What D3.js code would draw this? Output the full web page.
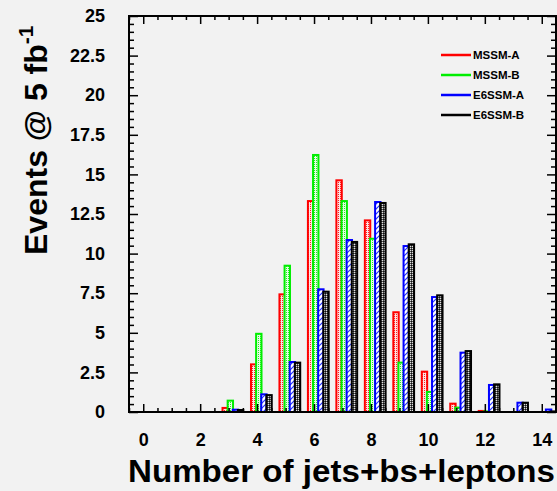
<!DOCTYPE html>
<html>
<head>
<meta charset="utf-8">
<script src="https://cdn.jsdelivr.net/npm/d3@7"></script>
<style>
  html, body { margin: 0; padding: 0; background: #f2f2f2; }
  svg { display: block; }
  text { font-family: "Liberation Sans", Arial, Helvetica, sans-serif; font-weight: bold; fill: #000; }
</style>
</head>
<body>
<svg id="chart" width="557" height="491"></svg>
<script>
// Multiplicity bins (number of jets + b-jets + leptons)
const bins = [0, 1, 2, 3, 4, 5, 6, 7, 8, 9, 10, 11, 12, 13, 14];

// Expected events per bin at 5 fb^-1
const mssmA = [0, 0, 0, 0.32, 3.07, 7.49, 13.38, 14.69, 12.16, 6.36, 2.61, 0.59, 0.13, 0, 0];
const mssmB = [0, 0, 0.05, 0.78, 5.0, 9.3, 16.29, 13.38, 11.0, 3.18, 1.33, 0.34, 0.1, 0, 0];
const e6A   = [0, 0, 0, 0.21, 1.18, 3.22, 7.81, 10.92, 13.32, 10.54, 7.32, 3.81, 1.77, 0.65, 0.22];
const e6B   = [0, 0, 0, 0.19, 1.13, 3.18, 7.66, 10.8, 13.26, 10.65, 7.43, 3.91, 1.81, 0.65, 0.1];

const seriesNames = ["MSSM-A", "MSSM-B", "E6SSM-A", "E6SSM-B"];
const seriesValues = [mssmA, mssmB, e6A, e6B];

const xTicks = [0, 2, 4, 6, 8, 10, 12, 14];
const yTicks = [0, 2.5, 5, 7.5, 10, 12.5, 15, 17.5, 20, 22.5, 25];

const colors = ["#ff0000", "#00ee00", "#0000ff", "#000000"];
const offsets = [-0.25, -0.07, 0.11, 0.29];   // bar start relative to bin centre
const barW = 0.26;                            // bar width in bin units

const svg = d3.select("#chart");
const L = 129, R = 556, T = 16, B = 412;

const x = d3.scaleLinear().domain([-0.5, 14.5]).range([L, R]);
const y = d3.scaleLinear().domain([0, 25]).range([B, T]);

// fill patterns
const defs = svg.append("defs");
function stipple(id, bg, fg) {
  const p = defs.append("pattern").attr("id", id).attr("patternUnits", "userSpaceOnUse")
    .attr("width", 2).attr("height", 2);
  p.append("rect").attr("width", 2).attr("height", 2).attr("fill", bg);
  p.append("rect").attr("x", 0).attr("y", 0).attr("width", 1).attr("height", 1).attr("fill", fg);
}
stipple("pRed", "#fbe4e4", "#ff2020");
stipple("pGreen", "#e6fbe6", "#22ee22");
const ph = defs.append("pattern").attr("id", "pBlue").attr("patternUnits", "userSpaceOnUse")
  .attr("width", 5).attr("height", 5);
ph.append("rect").attr("width", 5).attr("height", 5).attr("fill", "#ffffff");
ph.append("path").attr("d", "M0,5 L5,0 M-1,1 L1,-1 M4,6 L6,4").attr("stroke", "#2030ff").attr("stroke-width", 1.2);
const pk = defs.append("pattern").attr("id", "pBlack").attr("patternUnits", "userSpaceOnUse")
  .attr("width", 2).attr("height", 2);
pk.append("rect").attr("width", 2).attr("height", 2).attr("fill", "#555");
pk.append("rect").attr("x", 0).attr("y", 0).attr("width", 1).attr("height", 1).attr("fill", "#e0e0e0");
pk.append("rect").attr("x", 1).attr("y", 1).attr("width", 1).attr("height", 1).attr("fill", "#111");
const fills = ["url(#pRed)", "url(#pGreen)", "url(#pBlue)", "url(#pBlack)"];

svg.append("clipPath").attr("id", "plotClip").append("rect")
  .attr("x", L).attr("y", T).attr("width", R - L).attr("height", B - T);

const plot = svg.append("g").attr("clip-path", "url(#plotClip)");

seriesValues.forEach((vals, si) => {
  const w = x(barW) - x(0);
  plot.append("g").selectAll("rect")
    .data(bins.map((b, i) => ({ b, v: vals[i] })).filter(d => d.v > 0))
    .join("rect")
    .attr("x", d => x(d.b + offsets[si]) + 1)
    .attr("y", d => y(d.v) + 1)
    .attr("width", w - 2)
    .attr("height", d => Math.max(0, y(0) - y(d.v)))
    .attr("fill", fills[si])
    .attr("stroke", colors[si])
    .attr("stroke-width", 2);
});

// axes: major and minor ticks on all four sides, pointing inward
const minorX = d3.range(-0.5, 14.51, 0.5).filter(v => !xTicks.includes(v));
const minorY = d3.range(0, 25.01, 0.5).filter(v => !yTicks.includes(v));

function styleAxis(g) {
  g.select(".domain").remove();
  g.selectAll(".tick line").attr("stroke", "#000").attr("stroke-width", 1.5);
}

svg.append("g").attr("transform", `translate(0,${B})`)
  .call(d3.axisBottom(x).tickValues(xTicks).tickSize(-8).tickPadding(21).tickFormat(d => d))
  .call(styleAxis)
  .call(g => g.selectAll("text").attr("font-size", 18).attr("font-family", null));
svg.append("g").attr("transform", `translate(0,${B})`)
  .call(d3.axisBottom(x).tickValues(minorX).tickSize(-4).tickFormat(""))
  .call(styleAxis);
svg.append("g").attr("transform", `translate(0,${T})`)
  .call(d3.axisTop(x).tickValues(xTicks).tickSize(-8).tickFormat(""))
  .call(styleAxis);
svg.append("g").attr("transform", `translate(0,${T})`)
  .call(d3.axisTop(x).tickValues(minorX).tickSize(-4).tickFormat(""))
  .call(styleAxis);

svg.append("g").attr("transform", `translate(${L},0)`)
  .call(d3.axisLeft(y).tickValues(yTicks).tickSize(-9).tickPadding(24).tickFormat(d => d))
  .call(styleAxis)
  .call(g => g.selectAll("text").attr("font-size", 18).attr("font-family", null));
svg.append("g").attr("transform", `translate(${L},0)`)
  .call(d3.axisLeft(y).tickValues(minorY).tickSize(-5).tickFormat(""))
  .call(styleAxis);
svg.append("g").attr("transform", `translate(${R},0)`)
  .call(d3.axisRight(y).tickValues(yTicks).tickSize(-9).tickFormat(""))
  .call(styleAxis);
svg.append("g").attr("transform", `translate(${R},0)`)
  .call(d3.axisRight(y).tickValues(minorY).tickSize(-5).tickFormat(""))
  .call(styleAxis);

// frame
svg.append("rect").attr("x", L).attr("y", T).attr("width", R - L).attr("height", B - T)
  .attr("fill", "none").attr("stroke", "#000").attr("stroke-width", 2);

// legend
const leg = svg.append("g");
seriesNames.forEach((name, i) => {
  const ly = 55 + i * 20;
  leg.append("line").attr("x1", 441).attr("x2", 471).attr("y1", ly).attr("y2", ly)
    .attr("stroke", colors[i]).attr("stroke-width", 2.5);
  leg.append("text").attr("x", 473).attr("y", ly + 4).attr("font-size", 11.5).text(name);
});

// axis titles
svg.append("text").attr("x", 341.5).attr("y", 482).attr("text-anchor", "middle")
  .attr("font-size", 31).attr("textLength", 427).attr("lengthAdjust", "spacingAndGlyphs")
  .text("Number of jets+bs+leptons");

const yt = svg.append("text").attr("transform", "translate(47,255) rotate(-90)")
  .attr("font-size", 32);
yt.append("tspan").text("Events @ 5 fb");
yt.append("tspan").attr("dy", -14).attr("font-size", 21).text("-1");
</script>
</body>
</html>
